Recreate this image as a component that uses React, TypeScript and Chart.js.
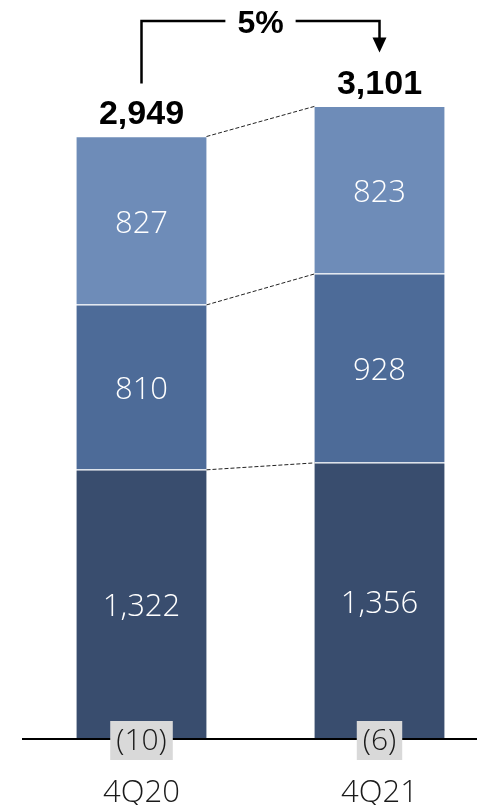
import React, { useEffect, useRef } from "react";
import { Chart, registerables } from "chart.js";

Chart.register(...registerables);

const categories = ["4Q20", "4Q21"];
const bottomSegment = [1322, 1356];
const middleSegment = [810, 928];
const topSegment = [827, 823];
const otherSegment = [-10, -6];
const growthLabel = "5%";

const LIGHT_FONT = "'Open Sans', 'Noto Sans', sans-serif";
const BOLD_FONT = "'Liberation Sans', Arial, sans-serif";

const fmt = (v: number) =>
  v < 0 ? `(${Math.abs(v).toLocaleString("en-US")})` : v.toLocaleString("en-US");

const annotationPlugin = {
  id: "annotations",
  afterDatasetsDraw(chart: any) {
    const ctx: CanvasRenderingContext2D = chart.ctx;
    const yScale = chart.scales.y;
    const zeroY = yScale.getPixelForValue(0);
    const stackMetas = [0, 1, 2].map((i) => chart.getDatasetMeta(i));

    ctx.save();

    // dashed connectors between stack levels
    ctx.strokeStyle = "#222";
    ctx.lineWidth = 1;
    ctx.setLineDash([4, 2]);
    stackMetas.forEach((meta: any) => {
      const a = meta.data[0];
      const b = meta.data[1];
      ctx.beginPath();
      ctx.moveTo(a.x + a.width / 2, a.y);
      ctx.lineTo(b.x - b.width / 2, b.y);
      ctx.stroke();
    });
    ctx.setLineDash([]);

    // segment value labels
    ctx.fillStyle = "#ffffff";
    ctx.font = `300 31px ${LIGHT_FONT}`;
    ctx.textAlign = "center";
    ctx.textBaseline = "middle";
    stackMetas.forEach((meta: any, di: number) => {
      meta.data.forEach((bar: any, j: number) => {
        const v = chart.data.datasets[di].data[j];
        ctx.fillText(fmt(v), bar.x, (bar.y + bar.base) / 2 + 3);
      });
    });

    // axis line
    ctx.strokeStyle = "#000";
    ctx.lineWidth = 2;
    ctx.beginPath();
    ctx.moveTo(22, zeroY);
    ctx.lineTo(477, zeroY);
    ctx.stroke();

    // negative "other" values in grey boxes
    ctx.font = `300 30px ${LIGHT_FONT}`;
    otherSegment.forEach((v, j) => {
      const bar: any = stackMetas[0].data[j];
      const text = fmt(v);
      const w = ctx.measureText(text).width + 12;
      const h = 39;
      ctx.fillStyle = "#d9d9d9";
      ctx.fillRect(bar.x - w / 2, zeroY - 18, w, h);
      ctx.fillStyle = "#1a1a1a";
      ctx.fillText(text, bar.x, zeroY + 2);
    });

    // totals
    const totals = categories.map(
      (_, j) => bottomSegment[j] + middleSegment[j] + topSegment[j] + otherSegment[j]
    );
    ctx.fillStyle = "#000";
    ctx.font = `bold 34px ${BOLD_FONT}`;
    const topMeta: any = stackMetas[2];
    totals.forEach((t, j) => {
      const bar = topMeta.data[j];
      ctx.fillText(fmt(t), bar.x, bar.y - 22);
    });

    // growth bracket
    const b0 = topMeta.data[0];
    const b1 = topMeta.data[1];
    const lineY = 21;
    const midX = (b0.x + b1.x) / 2;
    ctx.font = `bold 32px ${BOLD_FONT}`;
    const tw = ctx.measureText(growthLabel).width;
    const gap = tw / 2 + 12;
    ctx.strokeStyle = "#000";
    ctx.lineWidth = 2.5;
    ctx.beginPath();
    ctx.moveTo(b0.x, b0.y - 53);
    ctx.lineTo(b0.x, lineY);
    ctx.lineTo(midX - gap, lineY);
    ctx.moveTo(midX + gap, lineY);
    ctx.lineTo(b1.x, lineY);
    ctx.lineTo(b1.x, b1.y - 68);
    ctx.stroke();
    ctx.fillStyle = "#000";
    ctx.beginPath();
    ctx.moveTo(b1.x - 7, b1.y - 69);
    ctx.lineTo(b1.x + 7, b1.y - 69);
    ctx.lineTo(b1.x, b1.y - 54);
    ctx.closePath();
    ctx.fill();
    ctx.fillText(growthLabel, midX, lineY + 3);

    ctx.restore();
  },
};

export default function App() {
  const canvasRef = useRef<HTMLCanvasElement | null>(null);

  useEffect(() => {
    if (!canvasRef.current) return;
    const barCommon = {
      stack: "s",
      barThickness: 130,
      borderColor: "#ffffff",
      borderWidth: { top: 1, bottom: 1, left: 0, right: 0 },
      borderSkipped: false,
      clip: false as any,
    };
    const chart = new Chart(canvasRef.current, {
      type: "bar",
      data: {
        labels: categories,
        datasets: [
          { ...barCommon, label: "Bottom", data: bottomSegment, backgroundColor: "#394d6e" },
          { ...barCommon, label: "Middle", data: middleSegment, backgroundColor: "#4d6b98" },
          { ...barCommon, label: "Top", data: topSegment, backgroundColor: "#6e8cb8" },
          {
            ...barCommon,
            label: "Other",
            data: otherSegment,
            backgroundColor: "rgba(0,0,0,0)",
            borderColor: "rgba(0,0,0,0)",
          },
        ],
      },
      options: {
        responsive: false,
        animation: false,
        layout: { padding: { left: 141.5, right: 97.5, top: 6, bottom: 0 } },
        plugins: {
          legend: { display: false },
          tooltip: { enabled: false },
        },
        scales: {
          x: {
            stacked: true,
            offset: false,
            grid: { display: false, drawTicks: false },
            border: { display: false },
            ticks: {
              color: "#1a1a1a",
              font: { family: LIGHT_FONT, size: 31, weight: "300" as any },
              padding: 36,
              maxRotation: 0,
            },
            afterFit: (scale: any) => {
              scale.height = 66;
            },
          },
          y: {
            stacked: true,
            display: false,
            min: 0,
            max: 3600,
          },
        },
      },
      plugins: [annotationPlugin],
    });
    return () => chart.destroy();
  }, []);

  return (
    <div style={{ position: "absolute", left: 0, top: 0, width: 477, height: 805, background: "#fff" }}>
      <canvas ref={canvasRef} width={477} height={805} style={{ display: "block" }} />
    </div>
  );
}
